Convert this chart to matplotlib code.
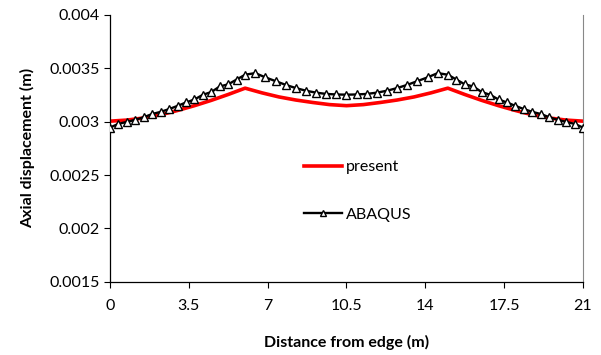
import matplotlib.pyplot as plt

# present solution (red)
x_present = [0, 0.75, 1.5, 2.25, 3.0, 3.75, 4.5, 5.25, 6.0, 6.75, 7.5, 8.25, 9.0, 9.75,
             10.5, 11.25, 12.0, 12.75, 13.5, 14.25, 15.0, 15.75, 16.5, 17.25, 18.0,
             18.75, 19.5, 20.25, 21.0]
y_present = [0.003005, 0.003015, 0.003035, 0.003065, 0.003105, 0.003150, 0.003200,
             0.003255, 0.003314, 0.003270, 0.003232, 0.003203, 0.003180, 0.003160,
             0.003150, 0.003160, 0.003180, 0.003203, 0.003232, 0.003270, 0.003314,
             0.003255, 0.003200, 0.003150, 0.003105, 0.003065, 0.003035, 0.003015,
             0.003005]

# ABAQUS nodes (finer near the edges)
x_abaqus = [0, 0.375, 0.75, 1.125, 1.5, 1.875, 2.25, 2.625, 3.0, 3.375, 3.75, 4.125,
            4.5, 4.875, 5.25, 5.625, 6.0,
            6.45, 6.9, 7.35, 7.8, 8.25, 8.7, 9.15, 9.6, 10.05, 10.5, 10.95, 11.4,
            11.85, 12.3, 12.75, 13.2, 13.65, 14.1, 14.55, 15.0,
            15.375, 15.75, 16.125, 16.5, 16.875, 17.25, 17.625, 18.0, 18.375, 18.75,
            19.125, 19.5, 19.875, 20.25, 20.625, 21.0]
y_abaqus = [0.002945, 0.002980, 0.002998, 0.003018, 0.003042, 0.003072, 0.003092,
            0.003118, 0.003148, 0.003180, 0.003208, 0.003252, 0.003278, 0.003330,
            0.003350, 0.003395, 0.003440,
            0.003455, 0.003415, 0.003380, 0.003345, 0.003315, 0.003290, 0.003272,
            0.003260, 0.003255, 0.003253, 0.003255, 0.003260, 0.003272, 0.003290,
            0.003315, 0.003345, 0.003380, 0.003415, 0.003455, 0.003440,
            0.003395, 0.003350, 0.003330, 0.003278, 0.003252, 0.003208, 0.003180,
            0.003148, 0.003118, 0.003092, 0.003072, 0.003042, 0.003018, 0.002998,
            0.002980, 0.002945]

xticks = [0, 3.5, 7, 10.5, 14, 17.5, 21]
xtick_labels = ["0", "3.5", "7", "10.5", "14", "17.5", "21"]
yticks = [0.0015, 0.002, 0.0025, 0.003, 0.0035, 0.004]
ytick_labels = ["0.0015", "0.002", "0.0025", "0.003", "0.0035", "0.004"]

plt.rcParams['font.family'] = ['Lato', 'DejaVu Sans']

fig = plt.figure(figsize=(6.01, 3.55), dpi=100)
ax = fig.add_axes([0.183, 0.206, 0.787, 0.752])

ax.plot(x_present, y_present, color='#ff0000', lw=2.6, label='present', zorder=2)
ax.plot(x_abaqus, y_abaqus, color='black', lw=1.7, marker='^', ms=6,
        mfc='white', mec='black', mew=1.0, label='ABAQUS', zorder=3)

ax.set_xlim(0, 21)
ax.set_ylim(0.0015, 0.004)
ax.set_xticks(xticks)
ax.set_xticklabels(xtick_labels)
ax.set_yticks(yticks)
ax.set_yticklabels(ytick_labels)
ax.tick_params(labelsize=11.5, length=4, width=0.8, color='black')
ax.tick_params(axis='x', pad=8)

ax.spines['top'].set_visible(False)
ax.spines['right'].set_color('#888888')
ax.spines['left'].set_linewidth(0.9)
ax.spines['bottom'].set_linewidth(0.9)

ax.set_xlabel('Distance from edge (m)', fontsize=11.5, fontweight='bold', labelpad=16)
ax.set_ylabel('Axial displacement (m)', fontsize=11.5, fontweight='bold', labelpad=10)

ax.legend(loc='upper left', bbox_to_anchor=(0.38, 0.51), frameon=False, fontsize=11.5,
          handlelength=2.4, labelspacing=2.1, numpoints=1, handletextpad=0.2,
          markerscale=0.8)

fig.savefig('out.png', dpi=100)
